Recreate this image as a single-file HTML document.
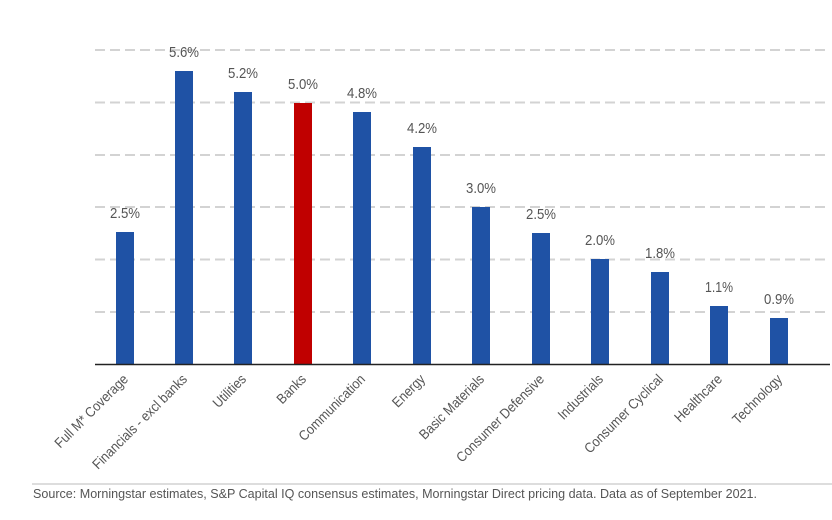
<!DOCTYPE html>
<html><head><meta charset="utf-8"><style>
body{margin:0;background:#fff;width:832px;height:515px;overflow:hidden}
</style></head><body>
<svg width="832" height="515" xmlns="http://www.w3.org/2000/svg" font-family="'Liberation Sans',sans-serif">
<g stroke="#d3d3d3" stroke-width="2" stroke-dasharray="10,5">
<line x1="95" x2="830" y1="50" y2="50"/>
<line x1="95" x2="830" y1="102.5" y2="102.5"/>
<line x1="95" x2="830" y1="155" y2="155"/>
<line x1="95" x2="830" y1="207" y2="207"/>
<line x1="95" x2="830" y1="259.5" y2="259.5"/>
<line x1="95" x2="830" y1="312" y2="312"/>
</g>
<g fill="#1f52a5">
<rect x="116" y="232" width="18" height="132"/>
<rect x="175" y="71" width="18" height="293"/>
<rect x="234" y="92" width="18" height="272"/>
<rect x="294" y="103" width="18" height="261" fill="#c00000"/>
<rect x="353" y="112" width="18" height="252"/>
<rect x="413" y="147" width="18" height="217"/>
<rect x="472" y="207" width="18" height="157"/>
<rect x="532" y="233" width="18" height="131"/>
<rect x="591" y="259" width="18" height="105"/>
<rect x="651" y="272" width="18" height="92"/>
<rect x="710" y="306" width="18" height="58"/>
<rect x="770" y="318" width="18" height="46"/>
</g>
<line x1="95" x2="830" y1="364.5" y2="364.5" stroke="#222" stroke-width="1.5"/>
<g fill="#555" font-size="15" text-anchor="middle" lengthAdjust="spacingAndGlyphs">
<text x="125" y="218" textLength="30" lengthAdjust="spacingAndGlyphs">2.5%</text>
<text x="184" y="57" textLength="30" lengthAdjust="spacingAndGlyphs">5.6%</text>
<text x="243" y="78" textLength="30" lengthAdjust="spacingAndGlyphs">5.2%</text>
<text x="303" y="89" textLength="30" lengthAdjust="spacingAndGlyphs">5.0%</text>
<text x="362" y="98" textLength="30" lengthAdjust="spacingAndGlyphs">4.8%</text>
<text x="422" y="133" textLength="30" lengthAdjust="spacingAndGlyphs">4.2%</text>
<text x="481" y="193" textLength="30" lengthAdjust="spacingAndGlyphs">3.0%</text>
<text x="541" y="219" textLength="30" lengthAdjust="spacingAndGlyphs">2.5%</text>
<text x="600" y="245" textLength="30" lengthAdjust="spacingAndGlyphs">2.0%</text>
<text x="660" y="258" textLength="30" lengthAdjust="spacingAndGlyphs">1.8%</text>
<text x="719" y="292" textLength="28" lengthAdjust="spacingAndGlyphs">1.1%</text>
<text x="779" y="304" textLength="30" lengthAdjust="spacingAndGlyphs">0.9%</text>
</g>
<g fill="#555" font-size="14" text-anchor="end">
<text transform="translate(129,380) rotate(-45) scale(0.9,1)">Full M* Coverage</text>
<text transform="translate(188,380) rotate(-45) scale(0.9,1)">Financials - excl banks</text>
<text transform="translate(247,380) rotate(-45) scale(0.9,1)">Utilities</text>
<text transform="translate(307,380) rotate(-45) scale(0.9,1)">Banks</text>
<text transform="translate(366,380) rotate(-45) scale(0.9,1)">Communication</text>
<text transform="translate(426,380) rotate(-45) scale(0.9,1)">Energy</text>
<text transform="translate(485,380) rotate(-45) scale(0.9,1)">Basic Materials</text>
<text transform="translate(545,380) rotate(-45) scale(0.9,1)">Consumer Defensive</text>
<text transform="translate(604,380) rotate(-45) scale(0.9,1)">Industrials</text>
<text transform="translate(664,380) rotate(-45) scale(0.9,1)">Consumer Cyclical</text>
<text transform="translate(723,380) rotate(-45) scale(0.9,1)">Healthcare</text>
<text transform="translate(783,380) rotate(-45) scale(0.9,1)">Technology</text>
</g>
<line x1="32" x2="832" y1="484" y2="484" stroke="#bbb" stroke-width="1"/>
<text x="33" y="498" fill="#555" font-size="13" textLength="724" lengthAdjust="spacingAndGlyphs">Source: Morningstar estimates, S&amp;P Capital IQ consensus estimates, Morningstar Direct pricing data. Data as of September 2021.</text>
</svg>
</body></html>
